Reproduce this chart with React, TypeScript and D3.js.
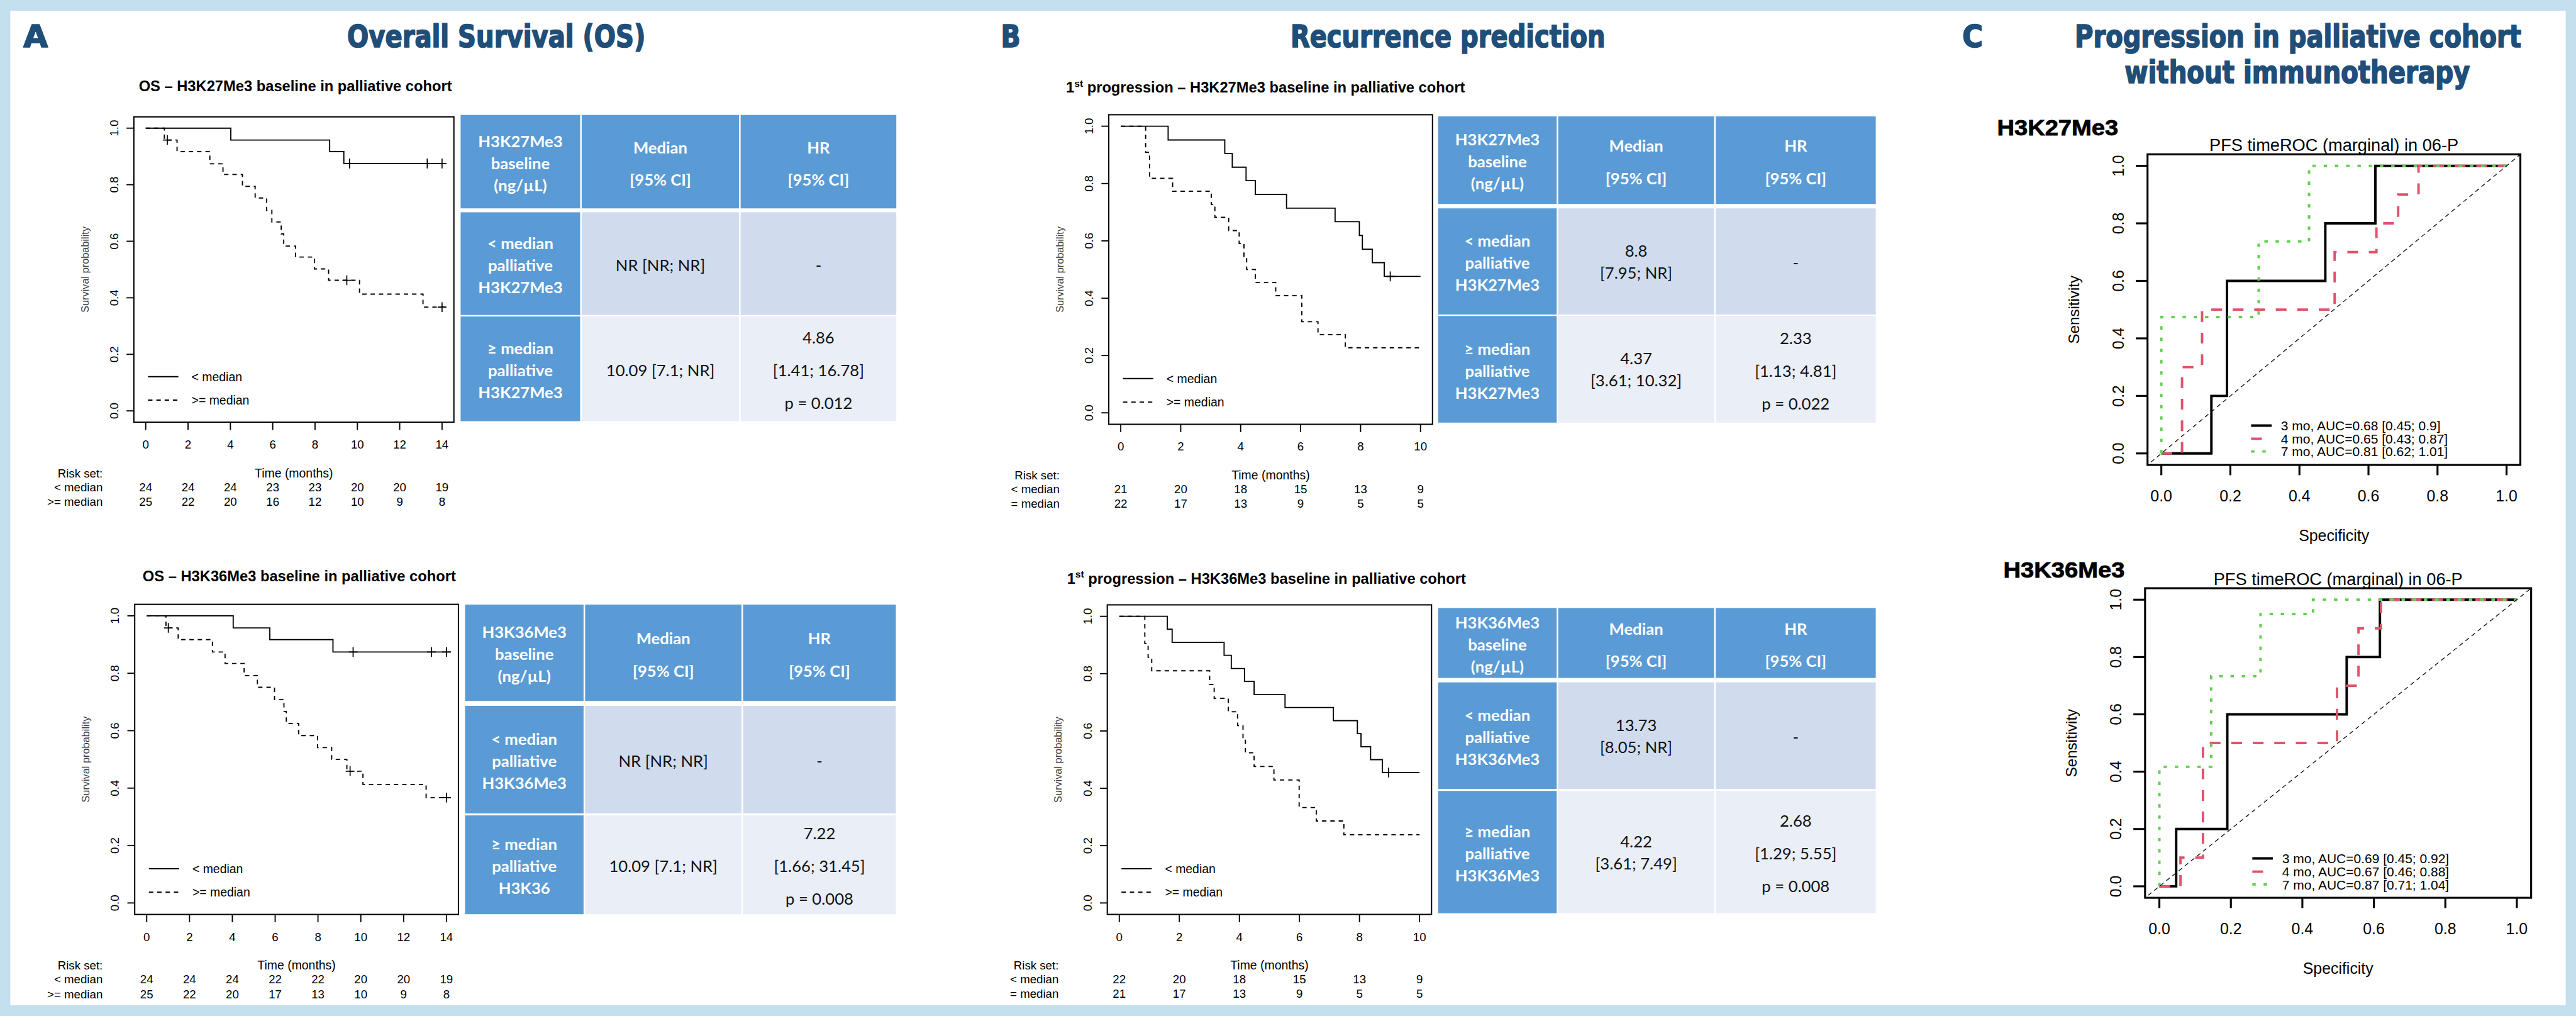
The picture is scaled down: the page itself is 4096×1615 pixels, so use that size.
import React from "react";
import * as d3 from "d3";

type Pt = [number, number];

// ---------------- Panel A : Overall survival ----------------
const osTimeTicks = [0, 2, 4, 6, 8, 10, 12, 14];
const survTicks = [0, 0.2, 0.4, 0.6, 0.8, 1.0];

const osK27LowSteps: Pt[] = [[0, 1], [4.02, 0.958], [8.69, 0.917], [9.36, 0.875]];
const osK27LowCensor = [9.63, 13.3, 14.0];
const osK27HighSteps: Pt[] = [[0, 1], [0.88, 0.958], [1.48, 0.917], [3.03, 0.874], [3.65, 0.836], [4.57, 0.794], [5.17, 0.753], [5.71, 0.709], [5.96, 0.668], [6.4, 0.626], [6.52, 0.583], [7.08, 0.544], [7.97, 0.502], [8.64, 0.462], [10.1, 0.413], [13.1, 0.367]];
const osK27HighCensor = [1.02, 9.5, 14.0];
const osK27RiskLow = [24, 24, 24, 23, 23, 20, 20, 19];
const osK27RiskHigh = [25, 22, 20, 16, 12, 10, 9, 8];

const osK36LowSteps: Pt[] = [[0, 1], [4.04, 0.958], [5.75, 0.917], [8.7, 0.874]];
const osK36LowCensor = [9.64, 13.3, 14.0];
const osK36HighSteps: Pt[] = [[0, 1], [0.9, 0.958], [1.47, 0.917], [3.07, 0.874], [3.66, 0.834], [4.55, 0.792], [5.17, 0.751], [5.97, 0.708], [6.41, 0.667], [6.52, 0.625], [7.1, 0.583], [7.98, 0.541], [8.64, 0.5], [9.35, 0.459], [10.1, 0.413], [13.05, 0.367]];
const osK36HighCensor = [1.01, 9.5, 14.0];
const osK36RiskLow = [24, 24, 24, 22, 22, 20, 20, 19];
const osK36RiskHigh = [25, 22, 20, 17, 13, 10, 9, 8];

// ---------------- Panel B : first progression ----------------
const pfsTimeTicks = [0, 2, 4, 6, 8, 10];

const pfsK27LowSteps: Pt[] = [[0, 1], [1.58, 0.952], [3.47, 0.905], [3.72, 0.857], [4.18, 0.81], [4.49, 0.762], [5.53, 0.714], [7.15, 0.667], [7.96, 0.619], [8.06, 0.571], [8.39, 0.524], [8.79, 0.476]];
const pfsK27LowCensor = [8.99];
const pfsK27HighSteps: Pt[] = [[0, 1], [0.83, 0.909], [0.96, 0.818], [1.73, 0.773], [3.02, 0.727], [3.14, 0.682], [3.6, 0.636], [3.95, 0.591], [4.11, 0.545], [4.2, 0.5], [4.49, 0.455], [5.17, 0.409], [6.04, 0.318], [6.58, 0.273], [7.49, 0.227]];
const pfsK27HighCensor: number[] = [];
const pfsK27RiskLow = [21, 20, 18, 15, 13, 9];
const pfsK27RiskHigh = [22, 17, 13, 9, 5, 5];

const pfsK36LowSteps: Pt[] = [[0, 1], [1.6, 0.955], [1.76, 0.909], [3.49, 0.864], [3.73, 0.818], [4.17, 0.773], [4.49, 0.727], [5.52, 0.682], [7.13, 0.636], [7.93, 0.591], [8.05, 0.545], [8.37, 0.5], [8.76, 0.455]];
const pfsK36LowCensor = [8.97];
const pfsK36HighSteps: Pt[] = [[0, 1], [0.85, 0.905], [0.96, 0.857], [1.08, 0.81], [3.01, 0.762], [3.16, 0.714], [3.63, 0.667], [3.94, 0.619], [4.12, 0.571], [4.2, 0.524], [4.49, 0.476], [5.15, 0.429], [5.99, 0.333], [6.56, 0.286], [7.48, 0.238]];
const pfsK36HighCensor: number[] = [];
const pfsK36RiskLow = [22, 20, 18, 15, 13, 9];
const pfsK36RiskHigh = [21, 17, 13, 9, 5, 5];

// ---------------- Tables ----------------
const colHeads = [["Median", "[95% CI]"], ["HR", "[95% CI]"]];
const hdrK27 = ["H3K27Me3", "baseline", "(ng/µL)"];
const hdrK36 = ["H3K36Me3", "baseline", "(ng/µL)"];
const rowsOsK27 = [["< median", "palliative", "H3K27Me3"], ["≥ median", "palliative", "H3K27Me3"]];
const medOsK27 = [["NR [NR; NR]"], ["10.09 [7.1; NR]"]];
const hrOsK27 = [["-"], ["4.86", "[1.41; 16.78]", "p = 0.012"]];
const rowsOsK36 = [["< median", "palliative", "H3K36Me3"], ["≥ median", "palliative", "H3K36"]];
const medOsK36 = [["NR [NR; NR]"], ["10.09 [7.1; NR]"]];
const hrOsK36 = [["-"], ["7.22", "[1.66; 31.45]", "p = 0.008"]];
const rowsPfsK27 = [["< median", "palliative", "H3K27Me3"], ["≥ median", "palliative", "H3K27Me3"]];
const medPfsK27 = [["8.8", "[7.95; NR]"], ["4.37", "[3.61; 10.32]"]];
const hrPfsK27 = [["-"], ["2.33", "[1.13; 4.81]", "p = 0.022"]];
const rowsPfsK36 = [["< median", "palliative", "H3K36Me3"], ["≥ median", "palliative", "H3K36Me3"]];
const medPfsK36 = [["13.73", "[8.05; NR]"], ["4.22", "[3.61; 7.49]"]];
const hrPfsK36 = [["-"], ["2.68", "[1.29; 5.55]", "p = 0.008"]];

// ---------------- Panel C : time-dependent ROC ----------------
const rocTicks = [0, 0.2, 0.4, 0.6, 0.8, 1.0];
const rocK27_3mo: Pt[] = [[0, 0], [0.145, 0], [0.145, 0.2], [0.19, 0.2], [0.19, 0.6], [0.475, 0.6], [0.475, 0.8], [0.62, 0.8], [0.62, 1], [1, 1]];
const rocK27_4mo: Pt[] = [[0, 0], [0.06, 0], [0.06, 0.3], [0.118, 0.3], [0.118, 0.5], [0.502, 0.5], [0.502, 0.7], [0.623, 0.7], [0.623, 0.8], [0.686, 0.8], [0.686, 0.9], [0.745, 0.9], [0.745, 1], [1, 1]];
const rocK27_7mo: Pt[] = [[0, 0], [0, 0.474], [0.282, 0.474], [0.282, 0.737], [0.428, 0.737], [0.428, 1], [1, 1]];
const rocK27Legend = ["3 mo, AUC=0.68 [0.45; 0.9]", "4 mo, AUC=0.65 [0.43; 0.87]", "7 mo, AUC=0.81 [0.62; 1.01]"];

const rocK36_3mo: Pt[] = [[0, 0], [0.047, 0], [0.047, 0.2], [0.19, 0.2], [0.19, 0.6], [0.524, 0.6], [0.524, 0.8], [0.617, 0.8], [0.617, 1], [1, 1]];
const rocK36_4mo: Pt[] = [[0, 0], [0.059, 0], [0.059, 0.1], [0.122, 0.1], [0.122, 0.5], [0.497, 0.5], [0.497, 0.7], [0.557, 0.7], [0.557, 0.9], [0.62, 0.9], [0.62, 1], [1, 1]];
const rocK36_7mo: Pt[] = [[0, 0], [0, 0.417], [0.145, 0.417], [0.145, 0.733], [0.283, 0.733], [0.283, 0.95], [0.43, 0.95], [0.43, 1], [1, 1]];
const rocK36Legend = ["3 mo, AUC=0.69 [0.45; 0.92]", "4 mo, AUC=0.67 [0.46; 0.88]", "7 mo, AUC=0.87 [0.71; 1.04]"];

// ---------------- Styling ----------------
const W = 4096;
const H = 1615;
const S = W / 5268;
const RF = "'Liberation Sans', Arial, Helvetica, sans-serif";
const TF = "Lato, 'Open Sans', 'Liberation Sans', sans-serif";
const HF = "'Liberation Sans Narrow', 'DejaVu Sans Condensed', Roboto, sans-serif";
const NAVY = "#1f4e79";
const BLUE = "#5b9bd5";
const ROW2 = "#d0dcee";
const ROW3 = "#e9eef7";
const RED = "#DF536B";
const GREEN = "#61D04F";

function fmt1(v: number) {
  return v.toFixed(1);
}

type KMConf = {
  x0: number; x1: number; y0: number; y1: number; xmax: number; ticks: number[];
  end: number; titleX: number; titleY: number; title: React.ReactNode;
  lowSteps: Pt[]; lowCensor: number[]; highSteps: Pt[]; highCensor: number[];
  riskLow: number[]; riskHigh: number[]; riskX: number; highLabel: string;
};

function KM({ p }: { p: KMConf }) {
  const x = d3.scaleLinear().domain([0, p.xmax]).range([p.x0, p.x1]);
  const y = d3.scaleLinear().domain([0, 1]).range([p.y0, p.y1]);
  const px = (p.x1 - p.x0) * 0.04;
  const py = (p.y0 - p.y1) * 0.04;
  const bx0 = p.x0 - px, bx1 = p.x1 + px, by0 = p.y1 - py, by1 = p.y0 + py;
  const line = d3.line<Pt>().x((d) => x(d[0])).y((d) => y(d[1])).curve(d3.curveStepAfter);
  const survAt = (steps: Pt[], t: number) => {
    let s = 1;
    for (const [tt, v] of steps) if (tt <= t) s = v;
    return s;
  };
  const curve = (steps: Pt[], censor: number[], dash?: string) => {
    const pts: Pt[] = [...steps, [p.end, steps[steps.length - 1][1]]];
    return (
      <g>
        <path d={line(pts) || ""} fill="none" stroke="#000" strokeWidth={2.4} strokeDasharray={dash} />
        {censor.map((t, i) => {
          const cx = x(t), cy = y(survAt(steps, t));
          return <path key={i} d={`M${cx - 9},${cy}H${cx + 9}M${cx},${cy - 10}V${cy + 10}`} stroke="#000" strokeWidth={2.2} />;
        })}
      </g>
    );
  };
  const legY1 = y(0) - 70, legY2 = y(0) - 22;
  return (
    <g fontFamily={RF}>
      <text x={p.titleX} y={p.titleY} textAnchor="middle" fontSize={30.5} fontWeight="bold" fill="#000">{p.title}</text>
      <rect x={bx0} y={by0} width={bx1 - bx0} height={by1 - by0} fill="#fff" stroke="#000" strokeWidth={2.6} />
      {survTicks.map((v) => (
        <g key={v}>
          <line x1={bx0} x2={bx0 - 15} y1={y(v)} y2={y(v)} stroke="#000" strokeWidth={2.4} />
          <text transform={`translate(${bx0 - 32},${y(v)}) rotate(-90)`} textAnchor="middle" fontSize={24} fill="#000">{fmt1(v)}</text>
        </g>
      ))}
      {p.ticks.map((t) => (
        <g key={t}>
          <line x1={x(t)} x2={x(t)} y1={by1} y2={by1 + 16} stroke="#000" strokeWidth={2.4} />
          <text x={x(t)} y={by1 + 54} textAnchor="middle" fontSize={24} fill="#000">{t}</text>
        </g>
      ))}
      <text transform={`translate(${bx0 - 93},${(by0 + by1) / 2}) rotate(-90)`} textAnchor="middle" fontSize={21} fill="#404040">Survival probability</text>
      {curve(p.lowSteps, p.lowCensor)}
      {curve(p.highSteps, p.highCensor, "9,8")}
      <line x1={bx0 + 29} x2={bx0 + 91} y1={legY1} y2={legY1} stroke="#000" strokeWidth={2.4} />
      <line x1={bx0 + 29} x2={bx0 + 91} y1={legY2} y2={legY2} stroke="#000" strokeWidth={2.4} strokeDasharray="9,8" />
      <text x={bx0 + 118} y={legY1 + 9} fontSize={25} fill="#000">{"< median"}</text>
      <text x={bx0 + 118} y={legY2 + 9} fontSize={25} fill="#000">{">= median"}</text>
      <text x={p.riskX} y={by1 + 113} textAnchor="end" fontSize={24} fill="#000">Risk set:</text>
      <text x={p.riskX} y={by1 + 141} textAnchor="end" fontSize={24} fill="#000">{"< median"}</text>
      <text x={p.riskX} y={by1 + 171} textAnchor="end" fontSize={24} fill="#000">{p.highLabel}</text>
      <text x={(bx0 + bx1) / 2} y={by1 + 113} textAnchor="middle" fontSize={25} fill="#000">Time (months)</text>
      {p.ticks.map((t, i) => (
        <g key={"r" + t}>
          <text x={x(t)} y={by1 + 141} textAnchor="middle" fontSize={24} fill="#000">{p.riskLow[i]}</text>
          <text x={x(t)} y={by1 + 171} textAnchor="middle" fontSize={24} fill="#000">{p.riskHigh[i]}</text>
        </g>
      ))}
    </g>
  );
}

type TConf = { cols: number[]; rows: number[][]; hdr: string[]; rowLabels: string[][]; med: string[][]; hr: string[][] };

function DataTable({ t }: { t: TConf }) {
  const g = 1.6;
  const cells: React.ReactNode[] = [];
  const texts: React.ReactNode[] = [];
  const offs = (n: number, kind: string) => {
    if (n === 1) return [3];
    if (n === 2) return kind === "head" ? [-29, 37] : [-22, 23];
    return kind === "label" ? [-42, 3, 48] : [-64, 3, 70];
  };
  for (let r = 0; r < 3; r++) {
    const [ry0, ry1] = t.rows[r];
    const cy = (ry0 + ry1) / 2;
    for (let c = 0; c < 3; c++) {
      const cx0 = t.cols[c] + (c > 0 ? g : 0);
      const cx1 = t.cols[c + 1] - (c < 2 ? g : 0);
      const fill = r === 0 || c === 0 ? BLUE : r === 1 ? ROW2 : ROW3;
      cells.push(<rect key={`c${r}${c}`} x={cx0} y={ry0} width={cx1 - cx0} height={ry1 - ry0} fill={fill} />);
      let lines: string[];
      let kind: string;
      if (c === 0) {
        lines = r === 0 ? t.hdr : t.rowLabels[r - 1];
        kind = "label";
      } else if (r === 0) {
        lines = colHeads[c - 1];
        kind = "head";
      } else {
        lines = c === 1 ? t.med[r - 1] : t.hr[r - 1];
        kind = "data";
      }
      const o = offs(lines.length, kind);
      const white = r === 0 || c === 0;
      lines.forEach((s, i) => {
        texts.push(
          <text key={`t${r}${c}${i}`} x={(cx0 + cx1) / 2} y={cy + o[i] + 12} textAnchor="middle" fontSize={33}
            fontWeight={white ? "bold" : "normal"} fill={white ? "#fff" : "#111"}>{s}</text>
        );
      });
    }
  }
  return <g fontFamily={TF}>{cells}{texts}</g>;
}

type RConf = {
  id: string; x0: number; x1: number; y0: number; y1: number; label: string; labelX: number; labelY: number;
  c3: Pt[]; c4: Pt[]; c7: Pt[]; legend: string[];
};

function ROC({ p }: { p: RConf }) {
  const x = d3.scaleLinear().domain([0, 1]).range([p.x0, p.x1]);
  const y = d3.scaleLinear().domain([0, 1]).range([p.y0, p.y1]);
  const px = (p.x1 - p.x0) * 0.04;
  const py = (p.y0 - p.y1) * 0.04;
  const bx0 = p.x0 - px, bx1 = p.x1 + px, by0 = p.y1 - py, by1 = p.y0 + py;
  const line = d3.line<Pt>().x((d) => x(d[0])).y((d) => y(d[1]));
  const lx = x(0.26);
  const rowsY = [y(0) - 57, y(0) - 30, y(0) - 4];
  const styles = [
    { stroke: "#000", dash: undefined as string | undefined },
    { stroke: RED, dash: "22,22" },
    { stroke: GREEN, dash: "7,16" },
  ];
  const curves = [p.c3, p.c4, p.c7];
  return (
    <g fontFamily={RF}>
      <defs>
        <clipPath id={p.id}>
          <rect x={bx0} y={by0} width={bx1 - bx0} height={by1 - by0} />
        </clipPath>
      </defs>
      <text x={p.labelX} y={p.labelY} fontSize={44} fontWeight="bold" fill="#000" stroke="#000" strokeWidth={1} textLength={248} lengthAdjust="spacingAndGlyphs">{p.label}</text>
      <text x={(bx0 + bx1) / 2} y={by0 - 7} textAnchor="middle" fontSize={35} fill="#000">PFS timeROC (marginal) in 06-P</text>
      <rect x={bx0} y={by0} width={bx1 - bx0} height={by1 - by0} fill="#fff" />
      {rocTicks.map((v) => (
        <g key={v}>
          <line x1={bx0} x2={bx0 - 24} y1={y(v)} y2={y(v)} stroke="#000" strokeWidth={4} />
          <text transform={`translate(${bx0 - 48},${y(v)}) rotate(-90)`} textAnchor="middle" fontSize={32} fill="#000">{fmt1(v)}</text>
          <line x1={x(v)} x2={x(v)} y1={by1} y2={by1 + 21} stroke="#000" strokeWidth={4} />
          <text x={x(v)} y={by1 + 74} textAnchor="middle" fontSize={32} fill="#000">{fmt1(v)}</text>
        </g>
      ))}
      <text transform={`translate(${bx0 - 140},${(by0 + by1) / 2}) rotate(-90)`} textAnchor="middle" fontSize={31} fill="#000">Sensitivity</text>
      <text x={(bx0 + bx1) / 2} y={by1 + 155} textAnchor="middle" fontSize={32} fill="#000">Specificity</text>
      {curves.map((c, i) => (
        <path key={i} d={line(c) || ""} fill="none" stroke={styles[i].stroke} strokeWidth={5} strokeDasharray={styles[i].dash} />
      ))}
      <g clipPath={`url(#${p.id})`}>
        <line x1={x(-0.1)} y1={y(-0.1)} x2={x(1.1)} y2={y(1.1)} stroke="#000" strokeWidth={1.6} strokeDasharray="9,7" />
      </g>
      <rect x={bx0} y={by0} width={bx1 - bx0} height={by1 - by0} fill="none" stroke="#000" strokeWidth={4} />
      {p.legend.map((s, i) => (
        <g key={s}>
          <line x1={lx} x2={lx + 42} y1={rowsY[i]} y2={rowsY[i]} stroke={styles[i].stroke} strokeWidth={5} strokeDasharray={styles[i].dash} />
          <text x={lx + 61} y={rowsY[i] + 10} fontSize={27} fill="#000">{s}</text>
        </g>
      ))}
    </g>
  );
}

const kmATop: KMConf = {
  x0: 298, x1: 904, y0: 840, y1: 262, xmax: 14, ticks: osTimeTicks, end: 14.2, titleX: 604, titleY: 186,
  title: "OS – H3K27Me3 baseline in palliative cohort",
  lowSteps: osK27LowSteps, lowCensor: osK27LowCensor, highSteps: osK27HighSteps, highCensor: osK27HighCensor,
  riskLow: osK27RiskLow, riskHigh: osK27RiskHigh, riskX: 210, highLabel: ">= median",
};
const kmABot: KMConf = {
  x0: 300, x1: 913, y0: 1846, y1: 1259, xmax: 14, ticks: osTimeTicks, end: 14.2, titleX: 612, titleY: 1188,
  title: "OS – H3K36Me3 baseline in palliative cohort",
  lowSteps: osK36LowSteps, lowCensor: osK36LowCensor, highSteps: osK36HighSteps, highCensor: osK36HighCensor,
  riskLow: osK36RiskLow, riskHigh: osK36RiskHigh, riskX: 210, highLabel: ">= median",
};
const pfsTitle = (m: string) => (
  <>
    1<tspan dy={-12} fontSize={20}>st</tspan>
    <tspan dy={12}>{` progression – ${m} baseline in palliative cohort`}</tspan>
  </>
);
const kmBTop: KMConf = {
  x0: 2292, x1: 2905, y0: 844, y1: 258, xmax: 10, ticks: pfsTimeTicks, end: 10, titleX: 2588, titleY: 189,
  title: pfsTitle("H3K27Me3"),
  lowSteps: pfsK27LowSteps, lowCensor: pfsK27LowCensor, highSteps: pfsK27HighSteps, highCensor: pfsK27HighCensor,
  riskLow: pfsK27RiskLow, riskHigh: pfsK27RiskHigh, riskX: 2167, highLabel: "= median",
};
const kmBBot: KMConf = {
  x0: 2289, x1: 2903, y0: 1846, y1: 1260, xmax: 10, ticks: pfsTimeTicks, end: 10, titleX: 2590, titleY: 1193,
  title: pfsTitle("H3K36Me3"),
  lowSteps: pfsK36LowSteps, lowCensor: pfsK36LowCensor, highSteps: pfsK36HighSteps, highCensor: pfsK36HighCensor,
  riskLow: pfsK36RiskLow, riskHigh: pfsK36RiskHigh, riskX: 2165, highLabel: "= median",
};

const tATop: TConf = { cols: [942, 1188, 1513, 1833], rows: [[235, 426], [434, 644], [647, 861]], hdr: hdrK27, rowLabels: rowsOsK27, med: medOsK27, hr: hrOsK27 };
const tABot: TConf = { cols: [951, 1195, 1518, 1832], rows: [[1236, 1433], [1443, 1663], [1667, 1869]], hdr: hdrK36, rowLabels: rowsOsK36, med: medOsK36, hr: hrOsK36 };
const tBTop: TConf = { cols: [2941, 3185, 3507, 3836], rows: [[238, 417], [426, 643], [646, 864]], hdr: hdrK27, rowLabels: rowsPfsK27, med: medPfsK27, hr: hrPfsK27 };
const tBBot: TConf = { cols: [2941, 3185, 3507, 3836], rows: [[1243, 1386], [1395, 1613], [1617, 1867]], hdr: hdrK36, rowLabels: rowsPfsK36, med: medPfsK36, hr: hrPfsK36 };

const rocTop: RConf = { id: "clipRocTop", x0: 4420, x1: 5126, y0: 927, y1: 339, label: "H3K27Me3", labelX: 4084, labelY: 276, c3: rocK27_3mo, c4: rocK27_4mo, c7: rocK27_7mo, legend: rocK27Legend };
const rocBot: RConf = { id: "clipRocBot", x0: 4416, x1: 5147, y0: 1812, y1: 1226, label: "H3K36Me3", labelX: 4097, labelY: 1181, c3: rocK36_3mo, c4: rocK36_4mo, c7: rocK36_7mo, legend: rocK36Legend };

function Heading({ x, y, len, children }: { x: number; y: number; len: number; children: React.ReactNode }) {
  return (
    <text x={x} y={y} fontFamily={HF} fontSize={64} fontWeight="bold" fill={NAVY} stroke={NAVY} strokeWidth={2.2}
      strokeLinejoin="round" textLength={len} lengthAdjust="spacingAndGlyphs">{children}</text>
  );
}

export default function App() {
  return (
    <svg width={W} height={H} viewBox={`0 0 ${W} ${H}`} xmlns="http://www.w3.org/2000/svg"
      style={{ position: "absolute", left: 0, top: 0, display: "block" }}>
      <g transform={`scale(${S})`}>
        <rect x={0} y={0} width={5268} height={2077} fill="#c4e0ee" />
        <rect x={21} y={22} width={5268 - 42} height={2077 - 44} fill="#fff" />
        <Heading x={48} y={97} len={50}>A</Heading>
        <Heading x={710} y={96} len={610}>Overall Survival (OS)</Heading>
        <Heading x={2047} y={97} len={40}>B</Heading>
        <Heading x={2639} y={96} len={644}>Recurrence prediction</Heading>
        <Heading x={4013} y={97} len={42}>C</Heading>
        <Heading x={4243} y={96} len={913}>Progression in palliative cohort</Heading>
        <Heading x={4345} y={170} len={706}>without immunotherapy</Heading>
        <KM p={kmATop} />
        <KM p={kmABot} />
        <KM p={kmBTop} />
        <KM p={kmBBot} />
        <DataTable t={tATop} />
        <DataTable t={tABot} />
        <DataTable t={tBTop} />
        <DataTable t={tBBot} />
        <ROC p={rocTop} />
        <ROC p={rocBot} />
      </g>
    </svg>
  );
}
